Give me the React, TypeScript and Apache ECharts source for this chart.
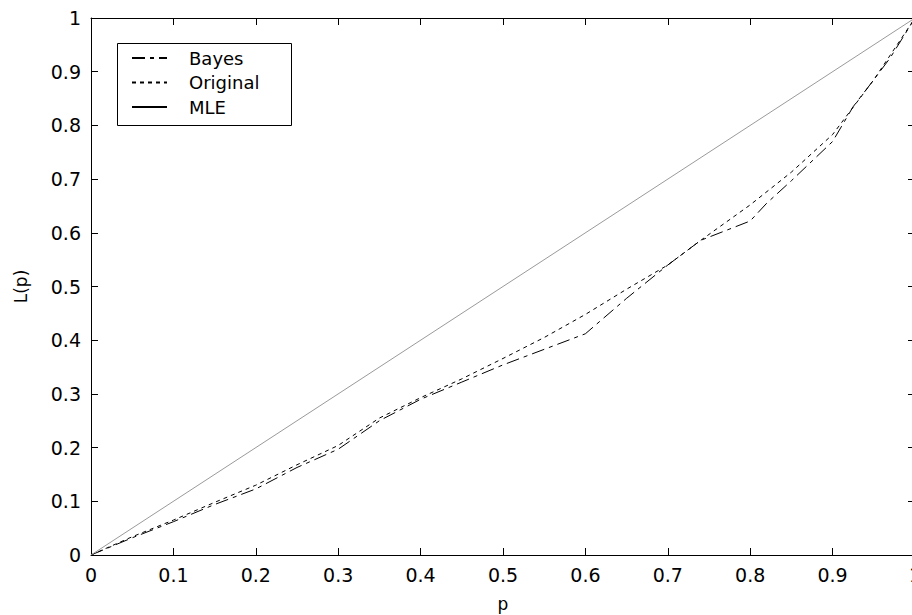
import React, { useEffect, useRef } from "react";
import * as echarts from "echarts";

// Data
const P_BAYES = [0, 0.05, 0.1, 0.15, 0.2, 0.25, 0.3, 0.35, 0.4, 0.45, 0.5, 0.55, 0.6, 0.65, 0.7, 0.74, 0.8, 0.82, 0.85, 0.9, 0.925, 0.95, 0.97, 1];
const L_BAYES = [0, 0.032, 0.062, 0.094, 0.123, 0.163, 0.197, 0.25, 0.29, 0.322, 0.354, 0.383, 0.412, 0.478, 0.54, 0.586, 0.622, 0.655, 0.697, 0.77, 0.835, 0.885, 0.926, 1];

const P_ORIGINAL = [0, 0.05, 0.1, 0.15, 0.2, 0.25, 0.3, 0.35, 0.4, 0.45, 0.5, 0.55, 0.6, 0.65, 0.7, 0.74, 0.8, 0.85, 0.9, 0.95, 1];
const L_ORIGINAL = [0, 0.034, 0.065, 0.098, 0.13, 0.168, 0.204, 0.255, 0.293, 0.328, 0.366, 0.405, 0.448, 0.495, 0.54, 0.586, 0.652, 0.713, 0.783, 0.885, 1];

const P_MLE = [0, 1];
const L_MLE = [0, 1];

const SERIES_NAMES = ["Bayes", "Original", "MLE"];
const AXIS_MIN = 0;
const AXIS_MAX = 1;
const AXIS_STEP = 0.1;

const FONT = "DejaVu Sans";

function pairs(xs: number[], ys: number[]) {
  return xs.map((x, i) => [x, ys[i]]);
}

function fmt(v: number) {
  if (v === 0) return "0";
  if (v === 1) return "1";
  return v.toFixed(1);
}

export default function App() {
  const ref = useRef<HTMLDivElement>(null);

  useEffect(() => {
    if (!ref.current) return;
    const chart = echarts.init(ref.current, undefined, { renderer: "svg" });

    const axisCommon = {
      type: "value" as const,
      min: AXIS_MIN,
      max: AXIS_MAX,
      interval: AXIS_STEP,
      splitLine: { show: false },
      axisLine: { show: true, onZero: false, lineStyle: { color: "#000", width: 1 } },
      axisTick: { show: true, inside: true, length: 7, lineStyle: { color: "#000", width: 1 } },
    };

    chart.setOption({
      animation: false,
      backgroundColor: "#fff",
      grid: {
        left: 91,
        top: 18,
        width: 824,
        height: 537,
        containLabel: false,
        outerBoundsMode: "none",
      },
      xAxis: [
        {
          ...axisCommon,
          position: "bottom",
          name: "p",
          nameLocation: "middle",
          nameGap: 40,
          nameTextStyle: { color: "#000", fontFamily: FONT, fontSize: 17 },
          axisLabel: { show: true, color: "#000", fontFamily: FONT, fontSize: 19, margin: 10, formatter: fmt },
        },
        {
          ...axisCommon,
          position: "top",
          axisLabel: { show: false },
        },
      ],
      yAxis: [
        {
          ...axisCommon,
          position: "left",
          name: "L(p)",
          nameLocation: "middle",
          nameGap: 62,
          nameTextStyle: { color: "#000", fontFamily: FONT, fontSize: 17 },
          axisLabel: { show: true, color: "#000", fontFamily: FONT, fontSize: 19, margin: 10, formatter: fmt },
        },
        {
          ...axisCommon,
          position: "right",
          axisLabel: { show: false },
        },
      ],
      graphic: [
        {
          type: "rect",
          left: 117,
          top: 43,
          shape: { width: 174, height: 82 },
          style: { fill: "#fff", stroke: "#000", lineWidth: 1 },
          z: 90,
        },
      ],
      legend: {
        orient: "vertical",
        left: 131,
        top: 49,
        padding: 0,
        itemWidth: 35,
        itemHeight: 14,
        itemGap: 6.5,
        z: 100,
        icon: "inherit",
        itemStyle: { opacity: 0 },
        textStyle: { color: "#000", fontFamily: FONT, fontSize: 18, padding: [0, 0, 0, 17] },
        data: [
          { name: SERIES_NAMES[0] },
          { name: SERIES_NAMES[1] },
          { name: SERIES_NAMES[2], lineStyle: { color: "#000" } },
        ],
      },
      series: [
        {
          name: SERIES_NAMES[0],
          type: "line",
          data: pairs(P_BAYES, L_BAYES),
          symbol: "none",
          lineStyle: { color: "#000", width: 1, type: [13, 5, 4, 5] },
          itemStyle: { color: "#000" },
        },
        {
          name: SERIES_NAMES[1],
          type: "line",
          data: pairs(P_ORIGINAL, L_ORIGINAL),
          symbol: "none",
          lineStyle: { color: "#000", width: 1, type: [4, 4] },
          itemStyle: { color: "#000" },
        },
        {
          name: SERIES_NAMES[2],
          type: "line",
          data: pairs(P_MLE, L_MLE),
          symbol: "none",
          lineStyle: { color: "#9a9a9a", width: 1, type: "solid" },
          itemStyle: { color: "#9a9a9a" },
        },
      ],
    });

    return () => chart.dispose();
  }, []);

  return (
    <div
      ref={ref}
      style={{ position: "fixed", left: 0, top: 0, width: 912, height: 615, background: "#fff" }}
    />
  );
}
